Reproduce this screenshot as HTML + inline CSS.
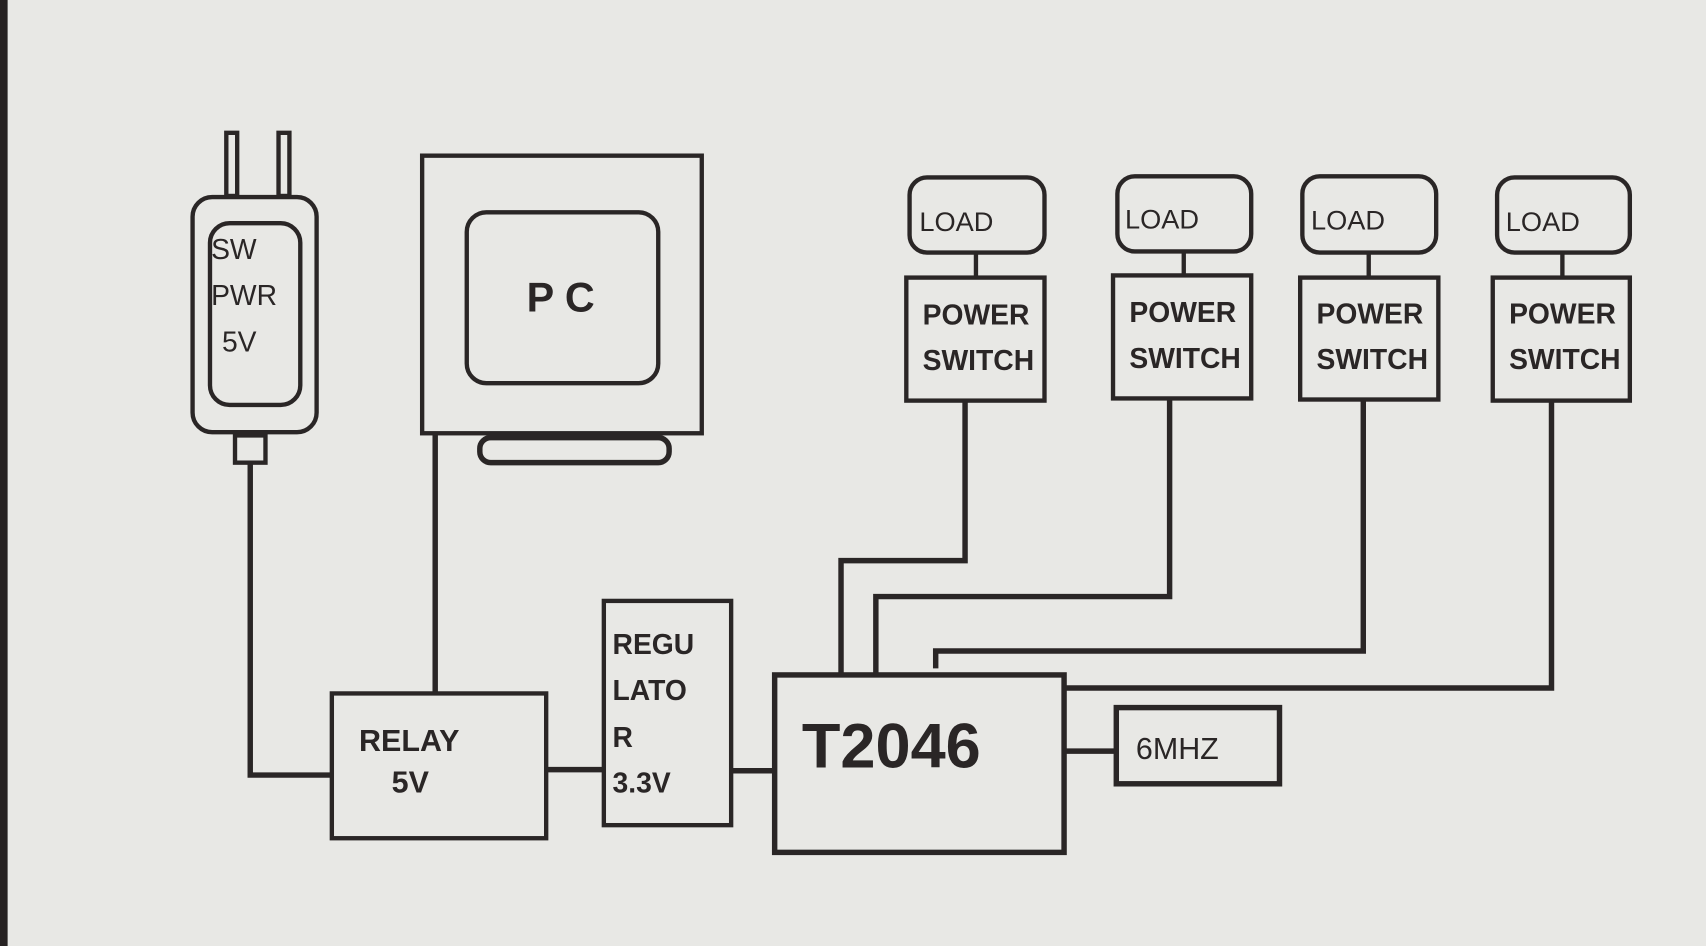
<!DOCTYPE html>
<html><head><meta charset="utf-8"><style>
html,body{margin:0;padding:0;background:#e8e8e5;}
svg{display:block}
text{font-family:"Liberation Sans",sans-serif;fill:#2a2626;}
</style></head><body>
<svg width="1706" height="946" viewBox="0 0 1568 869" preserveAspectRatio="none" xmlns="http://www.w3.org/2000/svg">
<rect x="0" y="0" width="1568" height="869" fill="#e8e8e5"/>
<rect x="0" y="0" width="7" height="869" fill="#262222"/>
<g fill="none" stroke="#2a2626" stroke-width="4">
<!-- adapter -->
<rect x="208" y="122" width="10" height="58"/>
<rect x="256" y="122" width="10" height="58"/>
<rect x="177" y="181" width="114" height="216" rx="18"/>
<rect x="193" y="205" width="83" height="167" rx="18"/>
<rect x="216" y="400" width="28" height="25"/>
<polyline points="230,425 230,712 305,712" stroke-width="5"/>
<!-- PC -->
<rect x="388" y="143" width="257" height="255"/>
<rect x="429" y="195" width="176" height="157" rx="18"/>
<rect x="441" y="402" width="174" height="23" rx="10" stroke-width="5"/>
<line x1="400" y1="398" x2="400" y2="637" stroke-width="5"/>
<!-- relay -->
<rect x="305" y="637" width="197" height="133"/>
<line x1="502" y1="707" x2="555" y2="707" stroke-width="5"/>
<rect x="555" y="552" width="117" height="206"/>
<line x1="672" y1="708" x2="712" y2="708" stroke-width="5"/>
<rect x="712" y="620" width="266" height="163" stroke-width="5"/>
<line x1="978" y1="690" x2="1026" y2="690" stroke-width="5"/>
<rect x="1026" y="650" width="150" height="70" stroke-width="5"/>
<!-- loads -->
<rect x="836" y="163" width="124" height="69" rx="16"/>
<rect x="1027" y="162" width="123" height="69" rx="16"/>
<rect x="1197" y="162" width="123" height="70" rx="16"/>
<rect x="1376" y="163" width="122" height="69" rx="16"/>
<rect x="833" y="255" width="127" height="113"/>
<rect x="1023" y="253" width="127" height="113"/>
<rect x="1195" y="255" width="127" height="112"/>
<rect x="1372" y="255" width="126" height="113"/>
<line x1="897" y1="232" x2="897" y2="255"/>
<line x1="1088" y1="231" x2="1088" y2="253"/>
<line x1="1258" y1="232" x2="1258" y2="255"/>
<line x1="1436" y1="232" x2="1436" y2="255"/>
<polyline points="887,368 887,515 773,515 773,620" stroke-width="5"/>
<polyline points="1075,366 1075,548 805,548 805,620" stroke-width="5"/>
<polyline points="1253,367 1253,598 860,598 860,614" stroke-width="5"/>
<polyline points="1426,368 1426,632 978,632" stroke-width="5"/>
</g>
<g font-size="26">
<text x="194" y="238">SW</text>
<text x="194" y="280">PWR</text>
<text x="204" y="323">5V</text>
</g>
<text x="484" y="286" font-size="38" font-weight="bold">P C</text>
<g font-size="28" font-weight="bold">
<text x="330" y="690">RELAY</text>
<text x="360" y="728">5V</text>
</g>
<g font-size="26" font-weight="bold">
<text x="563" y="601">REGU</text>
<text x="563" y="643">LATO</text>
<text x="563" y="686">R</text>
<text x="563" y="728">3.3V</text>
</g>
<text x="737" y="705" font-size="58" font-weight="bold">T2046</text>
<text x="1044" y="697" font-size="28">6MHZ</text>
<g font-size="25">
<text x="845" y="212">LOAD</text>
<text x="1034" y="210">LOAD</text>
<text x="1205" y="211">LOAD</text>
<text x="1384" y="212">LOAD</text>
</g>
<g font-size="26" font-weight="bold">
<text x="848" y="298">POWER</text><text x="848" y="340">SWITCH</text>
<text x="1038" y="296">POWER</text><text x="1038" y="338">SWITCH</text>
<text x="1210" y="297">POWER</text><text x="1210" y="339">SWITCH</text>
<text x="1387" y="297">POWER</text><text x="1387" y="339">SWITCH</text>
</g>
</svg>
</body></html>
